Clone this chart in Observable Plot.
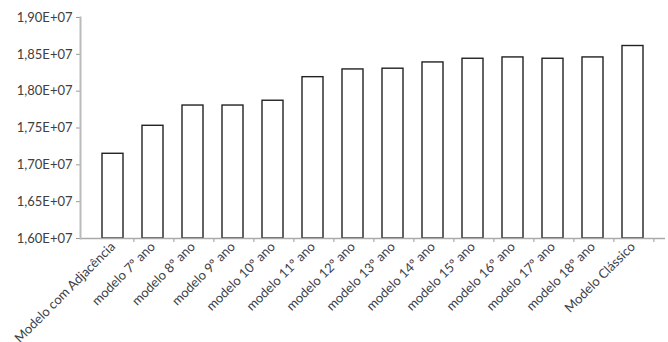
<!DOCTYPE html>
<html>
<head>
<meta charset="utf-8">
<script src="https://cdn.jsdelivr.net/npm/d3@7"></script>
<script src="https://cdn.jsdelivr.net/npm/@observablehq/plot@0.6"></script>
<style>
  html, body { margin: 0; padding: 0; background: #fff; }
  #chart { width: 668px; height: 342px; }
</style>
</head>
<body>
<div id="chart"></div>
<script>
const categories = [
  "Modelo com Adjacência", "modelo 7º ano", "modelo 8º ano", "modelo 9º ano",
  "modelo 10º ano", "modelo 11º ano", "modelo 12º ano", "modelo 13º ano",
  "modelo 14º ano", "modelo 15º ano", "modelo 16º ano", "modelo 17º ano",
  "modelo 18º ano", "Modelo Clássico"
];
const values = [
  1.715e7, 1.753e7, 1.7805e7, 1.7805e7, 1.787e7, 1.819e7, 1.8295e7, 1.8305e7,
  1.839e7, 1.844e7, 1.8458e7, 1.844e7, 1.8458e7, 1.8613e7
];
const yTicks = [1.60e7, 1.65e7, 1.70e7, 1.75e7, 1.80e7, 1.85e7, 1.90e7];

const data = categories.map((c, i) => ({category: c, value: values[i]}));

const fmt = v => {
  const m = v / 1e7;
  return m.toFixed(2).replace(".", ",") + "E+07";
};

const width = 668, height = 342;
const marginLeft = 80, marginRight = 3, marginTop = 17, marginBottom = 104;
const band = (width - marginLeft - marginRight) / categories.length;

const chart = Plot.plot({
  width, height, marginLeft, marginRight, marginTop, marginBottom,
  style: {fontFamily: "Lato, 'Open Sans', sans-serif", fontSize: "13px", color: "#404040", background: "#fff"},
  x: {domain: categories, padding: 0.47, label: null},
  y: {domain: [1.6e7, 1.9e7], label: null},
  marks: [
    Plot.barY(data, {x: "category", y1: 1.6e7, y2: "value", fill: "white", stroke: "#222", strokeWidth: 1.4}),
    Plot.axisY({ticks: yTicks, tickFormat: fmt, tickSize: 4, tickPadding: 4, stroke: "#999", label: null}),
    Plot.axisX({tickSize: 0, tickPadding: 6, tickRotate: -45, label: null, fill: "#404040"}),
    Plot.axisX({tickSize: 4, tickFormat: () => "", dx: band / 2, stroke: "#999", label: null}),
    Plot.ruleY([1.6e7], {stroke: "#aaa", strokeWidth: 1.5}),
    Plot.frame({anchor: "left", stroke: "#bbb", strokeWidth: 2})
  ]
});
document.getElementById("chart").appendChild(chart);
</script>
</body>
</html>
